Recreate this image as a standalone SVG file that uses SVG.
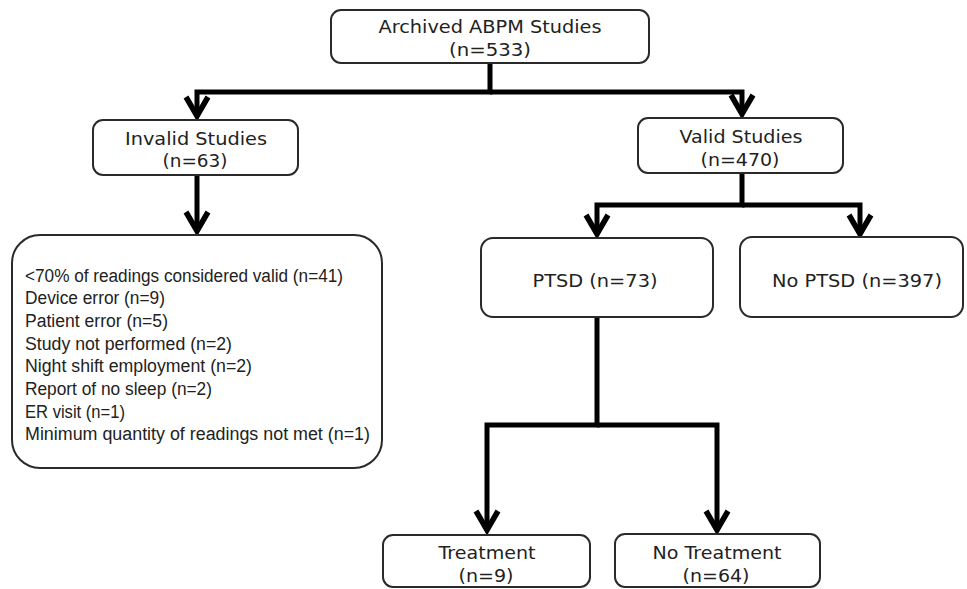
<svg xmlns="http://www.w3.org/2000/svg" width="967" height="589" viewBox="0 0 967 589">
<style>
.box{fill:#fff;stroke:#2a2a2a;stroke-width:2}
.t{font-family:"DejaVu Sans",Verdana,sans-serif;font-size:18px;fill:#222;text-anchor:middle}
.l{font-family:"Liberation Sans",Arial,sans-serif;font-size:18px;fill:#222}
.c{fill:none;stroke:#000;stroke-width:5;stroke-linejoin:miter}
.h{fill:none;stroke:#000;stroke-width:5.5;stroke-linejoin:miter;stroke-linecap:butt}
</style>
<rect width="967" height="589" fill="#fff"/>
<g id="connectors">
<polyline class="c" points="490,63 490,92 197,92 197,116"/>
<polyline class="c" points="490,92 742,92 742,114"/>
<polyline class="h" points="186,97 197,116 208,97"/>
<polyline class="h" points="731,95 742,114 753,95"/>
<line class="c" x1="197" y1="175" x2="197" y2="231"/>
<polyline class="h" points="186,212 197,231 208,212"/>
<polyline class="c" points="742,173 742,205 597,205 597,234"/>
<polyline class="c" points="742,205 860,205 860,234"/>
<polyline class="h" points="586,215 597,234 608,215"/>
<polyline class="h" points="849,215 860,234 871,215"/>
<polyline class="c" points="597,317 597,425 487,425 487,530"/>
<polyline class="c" points="597,425 717,425 717,530"/>
<polyline class="h" points="476,511 487,530 498,511"/>
<polyline class="h" points="706,511 717,530 728,511"/>
</g>
<g id="archived">
<rect class="box" x="331" y="10" width="318" height="53" rx="10"/>
<text class="t" x="490" y="33" textLength="223" lengthAdjust="spacingAndGlyphs">Archived ABPM Studies</text>
<text class="t" x="490" y="56" textLength="82" lengthAdjust="spacingAndGlyphs">(n=533)</text>
</g>
<g id="invalid">
<rect class="box" x="93" y="120" width="205" height="55" rx="10"/>
<text class="t" x="196" y="145" textLength="142" lengthAdjust="spacingAndGlyphs">Invalid Studies</text>
<text class="t" x="195" y="167" textLength="65" lengthAdjust="spacingAndGlyphs">(n=63)</text>
</g>
<g id="valid">
<rect class="box" x="638" y="118" width="205" height="55" rx="10"/>
<text class="t" x="741" y="143" textLength="123" lengthAdjust="spacingAndGlyphs">Valid Studies</text>
<text class="t" x="740" y="166" textLength="79" lengthAdjust="spacingAndGlyphs">(n=470)</text>
</g>
<g id="reasons">
<rect class="box" x="12" y="235" width="370" height="233" rx="28"/>
<text class="l" x="25" y="282" textLength="318" lengthAdjust="spacingAndGlyphs">&lt;70% of readings considered valid (n=41)</text>
<text class="l" x="25" y="304" textLength="140" lengthAdjust="spacingAndGlyphs">Device error (n=9)</text>
<text class="l" x="25" y="327" textLength="143" lengthAdjust="spacingAndGlyphs">Patient error (n=5)</text>
<text class="l" x="25" y="350" textLength="207" lengthAdjust="spacingAndGlyphs">Study not performed (n=2)</text>
<text class="l" x="25" y="372" textLength="227" lengthAdjust="spacingAndGlyphs">Night shift employment (n=2)</text>
<text class="l" x="25" y="395" textLength="187" lengthAdjust="spacingAndGlyphs">Report of no sleep (n=2)</text>
<text class="l" x="25" y="418" textLength="100" lengthAdjust="spacingAndGlyphs">ER visit (n=1)</text>
<text class="l" x="25" y="440" textLength="345" lengthAdjust="spacingAndGlyphs">Minimum quantity of readings not met (n=1)</text>
</g>
<g id="ptsd">
<rect class="box" x="481" y="238" width="232" height="79" rx="12"/>
<text class="t" x="595" y="287" textLength="125" lengthAdjust="spacingAndGlyphs">PTSD (n=73)</text>
</g>
<g id="noptsd">
<rect class="box" x="740" y="237" width="223" height="80" rx="12"/>
<text class="t" x="857" y="287" textLength="170" lengthAdjust="spacingAndGlyphs">No PTSD (n=397)</text>
</g>
<g id="treatment">
<rect class="box" x="383" y="535" width="207" height="52" rx="10"/>
<text class="t" x="487" y="559" textLength="97" lengthAdjust="spacingAndGlyphs">Treatment</text>
<text class="t" x="486" y="582" textLength="55" lengthAdjust="spacingAndGlyphs">(n=9)</text>
</g>
<g id="notreatment">
<rect class="box" x="615" y="534" width="205" height="53" rx="10"/>
<text class="t" x="717" y="559" textLength="129" lengthAdjust="spacingAndGlyphs">No Treatment</text>
<text class="t" x="716" y="582" textLength="67" lengthAdjust="spacingAndGlyphs">(n=64)</text>
</g>
</svg>
